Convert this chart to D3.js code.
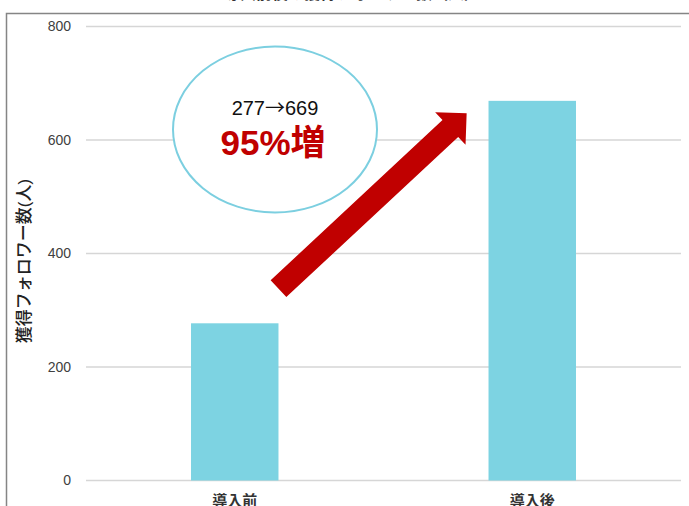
<!doctype html>
<html lang="ja">
<head>
<meta charset="UTF-8">
<title>獲得フォロワー数</title>
<script src="https://d3js.org/d3.v7.min.js"></script>
<style>
  body { margin: 0; background: #fff; }
  svg { display: block; font-family: "Liberation Sans", Arial, "Noto Sans CJK JP", sans-serif; }
</style>
</head>
<body>
<div id="chart"></div>
<script>

  // Data
  const categories = ['導入前', '導入後'];
  const followers = [277, 669];
  const yTicks = [0, 200, 400, 600, 800];
  const yTitle = '獲得フォロワー数(人)';
  const chartTitle = '導入前後の獲得フォロワー数（人）';
  const changeFrom = '277', changeTo = '669';
  const growthText = '95%増';

  const W = 689, H = 506;
  const plot = { left: 86, right: 681, top: 26.5, bottom: 480.5 };

  const svg = d3.select('#chart')
      .append('svg')
      .attr('width', W)
      .attr('height', H);

  // Scales
  const x = d3.scaleBand()
      .domain(categories)
      .range([plot.left, plot.right])
      .paddingInner(0.706)
      .paddingOuter(0.353);

  const y = d3.scaleLinear()
      .domain([0, 800])
      .range([plot.bottom, plot.top]);

  // Frame (top and left only, rest is cut off)
  svg.append('path')
      .attr('d', `M6.5,${H}V13.5H${W}`)
      .attr('fill', 'none')
      .attr('stroke', '#858585')
      .attr('stroke-width', 1.5);

  // Title, mostly cut off by the top edge as in the source
  svg.append('text')
      .attr('x', 352)
      .attr('y', -1)
      .attr('text-anchor', 'middle')
      .attr('font-size', 16)
      .attr('font-weight', 'bold')
      .attr('fill', '#333')
      .text(chartTitle);

  // Grid lines
  svg.append('g')
      .selectAll('line')
      .data(yTicks)
      .join('line')
      .attr('x1', plot.left)
      .attr('x2', plot.right)
      .attr('y1', d => y(d))
      .attr('y2', d => y(d))
      .attr('stroke', '#d6d6d6')
      .attr('stroke-width', 1.5);

  // Y axis labels
  const yAxis = d3.axisLeft(y)
      .tickValues(yTicks)
      .tickSize(0)
      .tickPadding(15);

  svg.append('g')
      .attr('transform', `translate(${plot.left},0)`)
      .call(yAxis)
      .call(g => g.select('.domain').remove())
      .call(g => g.selectAll('text')
          .attr('font-size', 14)
          .attr('font-family', '"Liberation Sans", Arial, sans-serif')
          .attr('fill', '#404040'));

  // Y axis title
  svg.append('text')
      .attr('transform', 'translate(30,261) rotate(-90)')
      .attr('text-anchor', 'middle')
      .attr('font-size', 17)
      .attr('font-weight', 500)
      .attr('fill', '#222')
      .text(yTitle);

  // Bars
  svg.append('g')
      .selectAll('rect')
      .data(followers)
      .join('rect')
      .attr('x', (d, i) => x(categories[i]))
      .attr('y', d => y(d))
      .attr('width', x.bandwidth())
      .attr('height', d => y(0) - y(d))
      .attr('fill', '#7dd3e2');

  // Category labels (bottom edge crops them slightly)
  svg.append('g')
      .selectAll('text')
      .data(categories)
      .join('text')
      .attr('x', d => x(d) + x.bandwidth() / 2)
      .attr('y', 506)
      .attr('text-anchor', 'middle')
      .attr('font-size', 15)
      .attr('font-weight', 'bold')
      .attr('fill', '#333')
      .text(d => d);

  // Arrow from the first bar towards the second
  const tail = [x(categories[0]) + x.bandwidth(), y(338)];
  const tip = [x(categories[1]) - x.bandwidth() * 0.25, y(647)];
  const dx = tip[0] - tail[0], dy = tip[1] - tail[1];
  const len = Math.hypot(dx, dy);
  const u = [dx / len, dy / len];
  const n = [-u[1], u[0]];
  const shaft = 11.5, head = 22.3, headLen = 22.3;
  const base = [tip[0] - u[0] * headLen, tip[1] - u[1] * headLen];
  const pt = (p, k) => [p[0] + n[0] * k, p[1] + n[1] * k];
  const arrowPts = [
    pt(tail, shaft), pt(base, shaft), pt(base, head), tip,
    pt(base, -head), pt(base, -shaft), pt(tail, -shaft)
  ];

  svg.append('polygon')
      .attr('points', arrowPts.map(p => p.join(',')).join(' '))
      .attr('fill', '#c00000');

  // Callout ellipse
  const callout = { cx: 275, cy: 129.5, rx: 102, ry: 83 };

  svg.append('ellipse')
      .attr('cx', callout.cx)
      .attr('cy', callout.cy)
      .attr('rx', callout.rx)
      .attr('ry', callout.ry)
      .attr('fill', '#fff')
      .attr('stroke', '#7ccfe0')
      .attr('stroke-width', 2);

  const change = svg.append('text')
      .attr('x', callout.cx)
      .attr('y', 114.5)
      .attr('text-anchor', 'middle')
      .attr('font-size', 20)
      .attr('fill', '#111');
  change.append('tspan').text(changeFrom);
  change.append('tspan')
      .attr('font-family', '"Noto Sans CJK JP", sans-serif')
      .text('→');
  change.append('tspan').text(changeTo);

  svg.append('text')
      .attr('x', callout.cx - 2)
      .attr('y', 154.5)
      .attr('text-anchor', 'middle')
      .attr('font-size', 35)
      .attr('font-weight', 'bold')
      .attr('fill', '#c00000')
      .text(growthText);

</script>
</body>
</html>
